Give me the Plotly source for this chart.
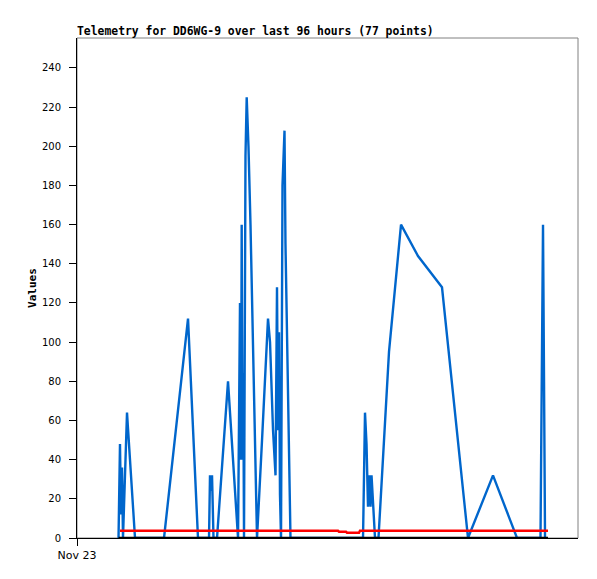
import pandas as pd
import plotly.graph_objects as go

# ---- data (hours since Nov 23 00:00) ----
blue_hours = [9.29, 9.40, 9.62, 9.85, 10.07, 10.29, 10.52, 10.85, 11.19, 11.41,
              11.86, 12.31, 12.98, 19.47, 24.84, 27.07, 29.54, 29.76, 29.98, 30.21,
              30.54, 31.33, 33.79, 36.03, 36.47, 36.70, 36.85, 37.03, 37.21, 37.37,
              37.70, 37.97, 38.22, 38.37, 38.82, 40.28, 41.40, 42.29, 42.74, 43.19,
              43.86, 44.42, 44.75, 44.98, 45.20, 45.42, 45.65, 45.98, 46.43, 46.65,
              47.10, 47.77, 64.00, 64.11, 64.22, 64.44, 64.78, 65.11, 65.45, 65.68,
              65.90, 66.23, 66.68, 67.46, 69.81, 72.50, 76.30, 81.67, 87.49, 93.08,
              98.45, 103.71, 103.83, 104.05, 104.27, 104.50, 104.72]
blue_values = [0, 12, 48, 12, 36, 0, 20, 40, 64, 56,
               40, 22, 0, 0, 112, 0, 0, 32, 24, 32,
               0, 0, 80, 0, 120, 40, 160, 40, 84, 0,
               195, 225, 210, 200, 160, 0, 50, 95, 112, 100,
               55, 32, 128, 55, 105, 22, 0, 180, 208, 150,
               80, 0, 0, 16, 48, 64, 48, 16, 32, 16,
               32, 18, 0, 0, 95, 160, 144, 128, 0, 32,
               0, 0, 41, 120, 160, 80, 0]

red_hours = [9.62, 58.40, 58.63, 60.19, 60.42, 63.10, 63.32, 105.39]
red_values = [3.7, 3.7, 3.2, 3.2, 2.7, 2.7, 3.7, 3.7]

black_hours = [9.29, 105.39]
black_values = [0, 0]

y_ticks = [0, 20, 40, 60, 80, 100, 120, 140, 160, 180, 200, 220, 240]
x_tick_label = "Nov 23"
title_text = "Telemetry for DD6WG-9 over last 96 hours (77 points)"

base = pd.Timestamp("2023-11-23 00:00")


def to_time(hours):
    return [base + pd.to_timedelta(h, unit="h") for h in hours]


fig = go.Figure()
fig.add_trace(go.Scatter(x=to_time(blue_hours), y=blue_values, mode="lines",
                         line=dict(color="#0066cc", width=2.4), showlegend=False))
fig.add_trace(go.Scatter(x=to_time(red_hours), y=red_values, mode="lines",
                         line=dict(color="#ff0000", width=2.5), showlegend=False))
fig.add_trace(go.Scatter(x=to_time(black_hours), y=black_values, mode="lines",
                         line=dict(color="#000000", width=2.5), showlegend=False))

fig.update_layout(
    width=597, height=579,
    margin=dict(l=77, r=19, t=38, b=41, autoexpand=False),
    paper_bgcolor="white", plot_bgcolor="white",
    title=dict(text="<b>" + title_text + "</b>", x=77 / 597, xref="container",
               xanchor="left", y=1 - 31 / 579, yref="container", yanchor="middle",
               font=dict(family="DejaVu Sans Mono", size=11.4, color="black")),
    shapes=[dict(type="rect", xref="paper", yref="paper", x0=0, x1=1, y0=0, y1=1,
                 line=dict(color="#808080", width=1), layer="below")],
)

fig.update_xaxes(
    range=[base, base + pd.to_timedelta(112.1, unit="h")],
    tickvals=[base], ticktext=[x_tick_label],
    ticks="outside", ticklen=7, tickcolor="black", tickwidth=1,
    showline=True, linecolor="black", linewidth=1,
    showgrid=False, zeroline=False,
    tickfont=dict(family="DejaVu Sans", size=11, color="black"),
)
fig.update_yaxes(
    range=[0, 255.3],
    tickvals=y_ticks,
    ticks="outside", ticklen=7, tickcolor="black", tickwidth=1,
    ticklabelstandoff=6,
    showline=True, linecolor="black", linewidth=1,
    showgrid=False, zeroline=False,
    tickfont=dict(family="DejaVu Sans", size=10, color="black"),
    title=dict(text="<b>Values</b>", standoff=3,
               font=dict(family="DejaVu Sans Mono", size=11, color="black")),
)

fig.write_html(
    "out.html",
    config={"displayModeBar": False},
    post_script="document.body.style.margin='0px';document.body.style.padding='0px';",
)
